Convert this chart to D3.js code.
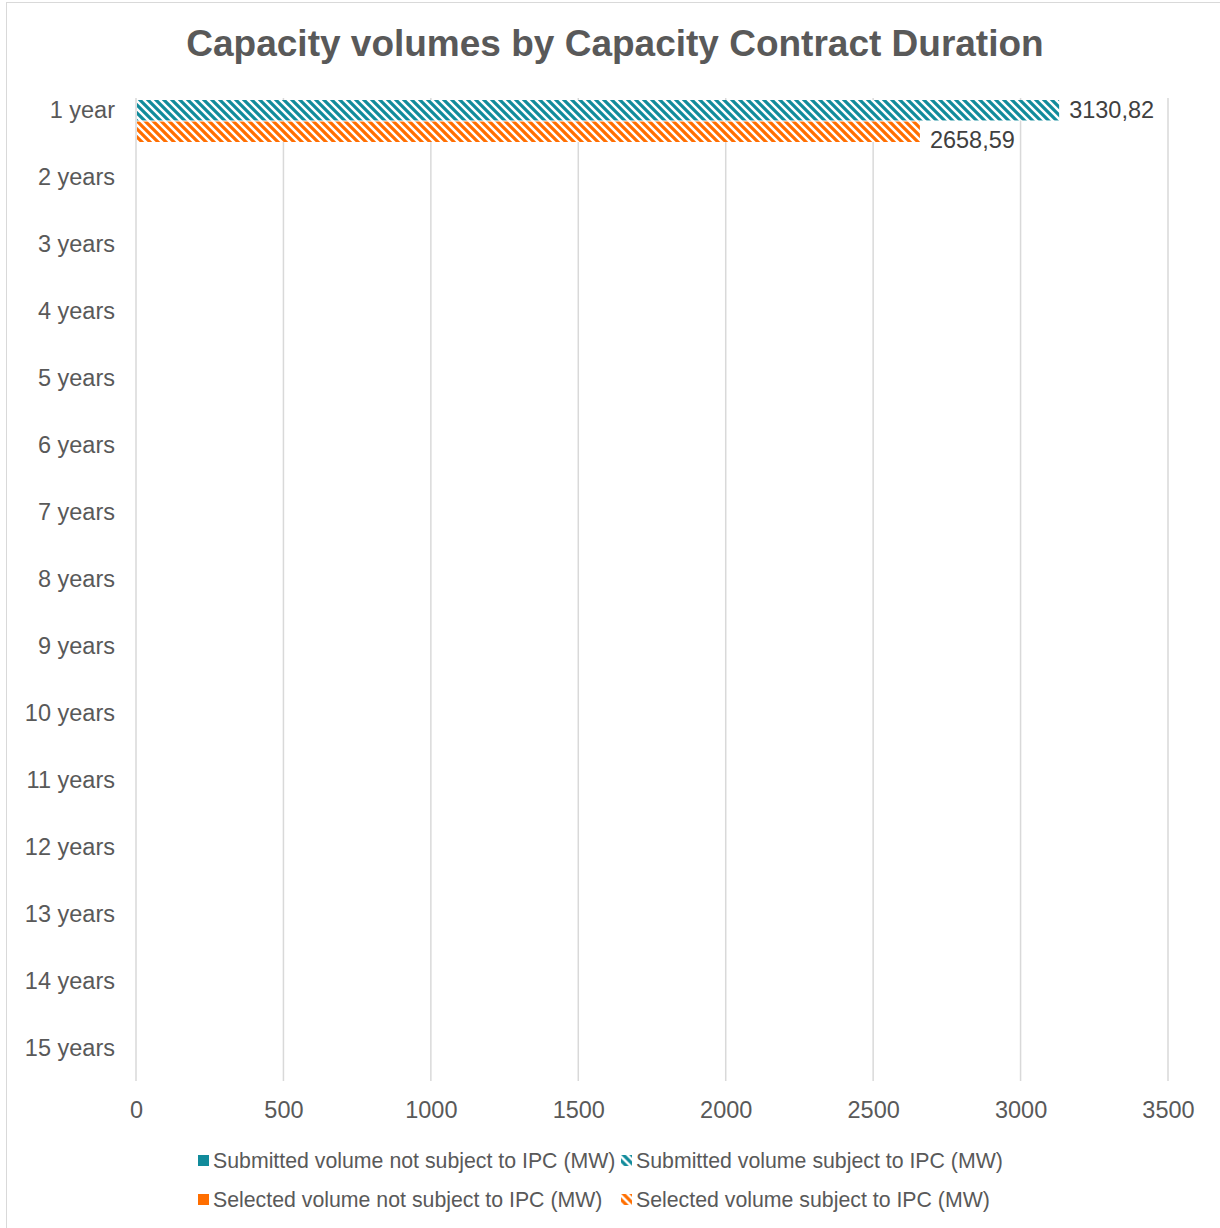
<!DOCTYPE html>
<html>
<head>
<meta charset="utf-8">
<script src="https://cdn.jsdelivr.net/npm/d3@7"></script>
<style>
  body { margin: 0; background: #fff; }
  text { font-family: "Liberation Sans", Arial, sans-serif; }
</style>
</head>
<body>
<div id="chart"></div>
<script>
// data
const categories = [
  "1 year", "2 years", "3 years", "4 years", "5 years", "6 years", "7 years",
  "8 years", "9 years", "10 years", "11 years", "12 years", "13 years",
  "14 years", "15 years"
];
const submittedNotIPC = [null, null, null, null, null, null, null, null, null, null, null, null, null, null, null];
const submittedIPC = [3130.82, null, null, null, null, null, null, null, null, null, null, null, null, null, null];
const selectedNotIPC = [null, null, null, null, null, null, null, null, null, null, null, null, null, null, null];
const selectedIPC = [2658.59, null, null, null, null, null, null, null, null, null, null, null, null, null, null];
const xTicks = [0, 500, 1000, 1500, 2000, 2500, 3000, 3500];
const legendLabels = [
  "Submitted volume not subject to IPC (MW)",
  "Submitted volume subject to IPC (MW)",
  "Selected volume not subject to IPC (MW)",
  "Selected volume subject to IPC (MW)"
];

let w = 1220;
let h = 1228;
let plotLeft = 136;
let plotRight = 1168;
let plotTop = 98;
let plotBottom = 1081;
let teal = "#118b9b";
let orange = "#ff6e00";
let textColor = "#595959";

const groups = [
  { key: "submitted", notIPC: submittedNotIPC, IPC: submittedIPC, color: teal, labelDy: 0 },
  { key: "selected", notIPC: selectedNotIPC, IPC: selectedIPC, color: orange, labelDy: 8 }
];

let x = d3.scaleLinear().domain([0, 3500]).range([plotLeft, plotRight]);

let y = d3.scaleBand().domain(categories).range([76.5, 1081.5]);

let yIn = d3
  .scaleBand()
  .domain(groups.map(function (g) { return g.key; }))
  .range([23.5, 65.5])
  .paddingInner(0.05);

let svg = d3
  .select("#chart")
  .append("svg")
  .attr("width", w)
  .attr("height", h);

svg.append("rect").attr("width", w).attr("height", h).attr("fill", "#fff");

// chart border (right and bottom edges fall off the canvas)
svg
  .append("rect")
  .attr("x", 6.5)
  .attr("y", 2.5)
  .attr("width", w + 20)
  .attr("height", h + 20)
  .attr("fill", "none")
  .attr("stroke", "#d9d9d9")
  .attr("stroke-width", 1);

let defs = svg.append("defs");
groups.forEach(function (g) {
  let p = defs
    .append("pattern")
    .attr("id", "hatch-" + g.key)
    .attr("patternUnits", "userSpaceOnUse")
    .attr("width", 8)
    .attr("height", 8);
  p.append("rect").attr("width", 8).attr("height", 8).attr("fill", "#fff");
  p.append("path")
    .attr("d", "M-4,4 L4,12 M0,0 L8,8 M4,-4 L12,4")
    .attr("stroke", g.color)
    .attr("stroke-width", 3.2);
});

svg
  .append("text")
  .attr("x", 615)
  .attr("y", 56)
  .attr("text-anchor", "middle")
  .attr("fill", textColor)
  .style("font-size", "37px")
  .style("font-weight", "bold")
  .text("Capacity volumes by Capacity Contract Duration");

// vertical gridlines
svg
  .append("g")
  .selectAll("line")
  .data(xTicks)
  .enter()
  .append("line")
  .attr("x1", function (d) { return x(d); })
  .attr("x2", function (d) { return x(d); })
  .attr("y1", plotTop)
  .attr("y2", plotBottom)
  .attr("stroke", "#d9d9d9")
  .attr("stroke-width", 1.5);

let xAxis = d3.axisBottom(x).tickValues(xTicks).tickSize(0).tickPadding(20).tickFormat(d3.format("d"));
let gx = svg
  .append("g")
  .attr("transform", `translate(0,${plotBottom})`)
  .call(xAxis);
gx.select(".domain").remove();
gx.selectAll("text").attr("fill", textColor).style("font-size", "23.5px");

let yAxis = d3.axisLeft(y).tickSize(0).tickPadding(21);
let gy = svg
  .append("g")
  .attr("transform", `translate(${plotLeft},0)`)
  .call(yAxis);
gy.select(".domain").remove();
gy.selectAll("text").attr("fill", textColor).style("font-size", "23.5px");

// bars: not-subject part first, subject part (hatched) stacked after it
let barData = [];
groups.forEach(function (g) {
  categories.forEach(function (c, i) {
    let a = g.notIPC[i] || 0;
    let b = g.IPC[i] || 0;
    barData.push({ cat: c, group: g, start: 0, end: a, fill: g.color });
    barData.push({ cat: c, group: g, start: a, end: a + b, fill: `url(#hatch-${g.key})` });
  });
});

svg
  .append("g")
  .selectAll("rect")
  .data(barData.filter(function (d) { return d.end > d.start; }))
  .enter()
  .append("rect")
  .attr("x", function (d) { return x(d.start) + 1; })
  .attr("width", function (d) { return x(d.end) - x(d.start) - 1; })
  .attr("y", function (d) { return y(d.cat) + yIn(d.group.key); })
  .attr("height", yIn.bandwidth())
  .attr("fill", function (d) { return d.fill; });

// data labels at the end of each non-empty bar
let fmt = function (v) { return d3.format(".2f")(v).replace(".", ","); };
let labelData = [];
groups.forEach(function (g) {
  categories.forEach(function (c, i) {
    let total = (g.notIPC[i] || 0) + (g.IPC[i] || 0);
    if (total > 0) labelData.push({ cat: c, group: g, value: g.IPC[i] || g.notIPC[i], total: total });
  });
});

svg
  .append("g")
  .selectAll("text")
  .data(labelData)
  .enter()
  .append("text")
  .attr("x", function (d) { return x(d.total) + 10; })
  .attr("y", function (d) { return y(d.cat) + yIn(d.group.key) + yIn.bandwidth() / 2 + d.group.labelDy; })
  .attr("dy", "0.35em")
  .attr("fill", "#404040")
  .style("font-size", "23.5px")
  .text(function (d) { return fmt(d.value); });

// legend, two columns
let legendItems = [
  { label: legendLabels[0], fill: teal },
  { label: legendLabels[1], fill: "url(#hatch-submitted)" },
  { label: legendLabels[2], fill: orange },
  { label: legendLabels[3], fill: "url(#hatch-selected)" }
];
let legendCols = [198, 621];
let legendRows = [1160.5, 1199.5];

let legend = svg
  .append("g")
  .selectAll("g")
  .data(legendItems)
  .enter()
  .append("g")
  .attr("transform", function (d, i) {
    return `translate(${legendCols[i % 2]},${legendRows[Math.floor(i / 2)]})`;
  });

legend
  .append("rect")
  .attr("x", 0)
  .attr("y", -5.5)
  .attr("width", 11)
  .attr("height", 11)
  .attr("fill", function (d) { return d.fill; });

legend
  .append("text")
  .attr("x", 15)
  .attr("dy", "0.35em")
  .attr("fill", textColor)
  .style("font-size", "21.3px")
  .text(function (d) { return d.label; });
</script>
</body>
</html>
